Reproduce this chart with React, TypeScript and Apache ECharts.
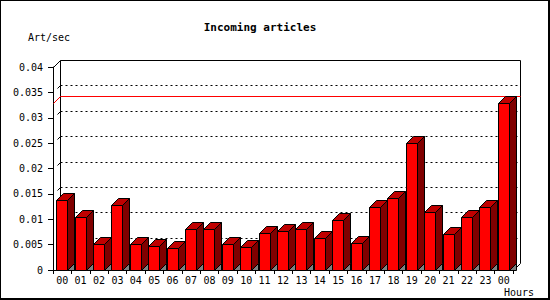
import React, { useEffect, useRef } from "react";
import * as echarts from "echarts";

const hours = ["00","01","02","03","04","05","06","07","08","09","10","11","12","13","14","15","16","17","18","19","20","21","22","23","00"];
const artPerSec = [0.0138,0.0104,0.0051,0.0128,0.0051,0.0047,0.0043,0.0080,0.0080,0.0051,0.0045,0.0072,0.0076,0.0080,0.0064,0.0098,0.0053,0.0124,0.0142,0.0250,0.0114,0.0070,0.0104,0.0124,0.0330];
const gridValues = [0.005,0.01,0.015,0.02,0.025,0.03,0.035];
const titleText = "Incoming articles";
const yName = "Art/sec";
const xName = "Hours";

const D = 7; // 3D depth
const MONO = "'DejaVu Sans Mono', monospace";
const px = (v: number) => Math.round(v) + 0.5;

function renderWall(params: any, api: any) {
  const cs = params.coordSys;
  const x0 = px(cs.x), x1 = px(cs.x + cs.width);
  const y0 = px(cs.y), yb = px(cs.y + cs.height);
  const children: any[] = [];
  const line = (a: number[], b: number[], stroke = "#000", dash?: number[]) => ({
    type: "line",
    shape: { x1: a[0], y1: a[1], x2: b[0], y2: b[1] },
    style: { stroke, lineWidth: 1, lineDash: dash },
  });
  gridValues.forEach((t) => {
    const y = px(api.coord([0, t])[1]);
    children.push(line([x0 + D, y - D], [x1 + D - 2, y - D], "#000", [2, 3]));
    children.push(line([x0 + 4, y - 4], [x0 + D, y - D]));
  });
  // back wall frame
  children.push(line([x0 + D, y0 - D], [x1 + D, y0 - D]));
  children.push(line([x0 + D, y0 - D], [x0 + D, yb - D]));
  children.push(line([x1 + D, y0 - D], [x1 + D, yb - D]));
  children.push(line([x0, y0], [x0 + D, y0 - D]));
  children.push(line([x1, yb], [x1 + D, yb - D]));
  // max line
  const maxV = Math.max(...artPerSec);
  const ym = px(api.coord([0, maxV])[1]);
  children.push(line([x0, ym], [x0 + D, ym - D], "#ff0000"));
  children.push(line([x0 + D, ym - D], [x1 + D, ym - D], "#ff0000"));
  return { type: "group", children };
}

function renderBar(params: any, api: any) {
  const i = api.value(0);
  const v = api.value(1);
  const base = api.coord([i, 0]);
  const topP = api.coord([i, v]);
  const bw = api.size([1, 0])[0];
  const L = px(base[0] - bw / 2 + bw * 0.17);
  const W = Math.round(bw * 0.6);
  const R = L + W;
  const B = px(base[1]);
  const T = px(topP[1]);
  const stroke = { stroke: "#000", lineWidth: 1 };
  return {
    type: "group",
    children: [
      {
        type: "polygon",
        shape: { points: [[R, B], [R + D, B], [R + D, B - D]] },
        style: { fill: "#808080", stroke: "#000", lineWidth: 1 },
      },
      {
        type: "polygon",
        shape: { points: [[R, B], [R, T], [R + D, T - D], [R + D, B - D]] },
        style: { fill: "#800000", ...stroke },
      },
      {
        type: "polygon",
        shape: { points: [[L, T], [L + D, T - D], [R + D, T - D], [R, T]] },
        style: { fill: "#c00000", ...stroke },
      },
      {
        type: "rect",
        shape: { x: L, y: T, width: W, height: B - T },
        style: { fill: "#ff0000", ...stroke },
      },
    ],
  };
}

export default function App() {
  const ref = useRef<HTMLDivElement>(null);
  useEffect(() => {
    if (!ref.current) return;
    const chart = echarts.init(ref.current, undefined, { renderer: "svg" });
    chart.setOption({
      animation: false,
      backgroundColor: "#fff",
      grid: { left: 53, top: 67, width: 460, height: 203 },
      xAxis: {
        type: "category",
        data: hours,
        axisLine: { lineStyle: { color: "#000", width: 1 } },
        axisTick: { show: true, length: 4, alignWithLabel: false, lineStyle: { color: "#000" } },
        axisLabel: { interval: 0, margin: 5, color: "#000", fontFamily: MONO, fontSize: 10 },
        splitLine: { show: false },
      },
      yAxis: {
        type: "value",
        min: 0,
        max: 0.04,
        interval: 0.005,
        axisLine: { show: true, lineStyle: { color: "#000", width: 1 } },
        axisTick: { show: true, length: 5, lineStyle: { color: "#000" } },
        axisLabel: { margin: 10, color: "#000", fontFamily: MONO, fontSize: 10 },
        splitLine: { show: false },
      },
      series: [
        {
          type: "custom",
          renderItem: renderWall,
          data: [[0, 0]],
          z: 1,
          silent: true,
        },
        {
          type: "custom",
          renderItem: renderBar,
          data: artPerSec.map((v, i) => [i, v]),
          encode: { x: 0, y: 1 },
          z: 2,
        },
      ],
      graphic: [
        {
          type: "rect",
          shape: { x: 0, y: 0, width: 549, height: 299 },
          style: { fill: "none", stroke: "#000", lineWidth: 2 },
          z: 100,
        },
        {
          type: "text",
          style: { text: titleText, x: 260, y: 27, textAlign: "center", textVerticalAlign: "middle", font: `bold 11px ${MONO}`, fill: "#000" },
        },
        {
          type: "text",
          style: { text: yName, x: 28, y: 37, textAlign: "left", textVerticalAlign: "middle", font: `10px ${MONO}`, fill: "#000" },
        },
        {
          type: "text",
          style: { text: xName, x: 504, y: 292, textAlign: "left", textVerticalAlign: "middle", font: `10px ${MONO}`, fill: "#000" },
        },
      ],
    });
    return () => chart.dispose();
  }, []);
  return <div ref={ref} style={{ position: "fixed", left: 0, top: 0, width: 550, height: 300 }} />;
}
